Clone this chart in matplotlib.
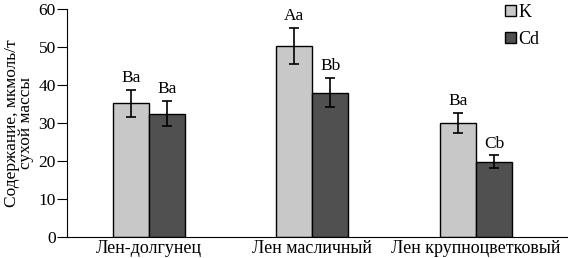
import numpy as np
import matplotlib
matplotlib.use("Agg")
import matplotlib.pyplot as plt

plt.rcParams['font.family'] = ['Liberation Serif', 'DejaVu Serif']

categories = ['Лен-долгунец', 'Лен масличный', 'Лен крупноцветковый']
k_vals = [35.2, 50.3, 30.0]
k_err = [3.6, 4.7, 2.7]
cd_vals = [32.5, 38.0, 19.8]
cd_err = [3.3, 3.8, 1.7]
k_labels = ['Ba', 'Aa', 'Ba']
cd_labels = ['Ba', 'Bb', 'Cb']

fig = plt.figure(figsize=(5.68, 2.58), dpi=100)
ax = fig.add_axes([67/568, 21/258, 1 - 67/568, 228/258])

x = np.arange(len(categories))
w = 0.22
ax.bar(x - w/2, k_vals, w, color='#c8c8c8', edgecolor='black', linewidth=1, label='K')
ax.bar(x + w/2, cd_vals, w, color='#505050', edgecolor='black', linewidth=1, label='Cd')
ax.errorbar(x - w/2, k_vals, yerr=k_err, fmt='none', ecolor='black', elinewidth=1.2, capsize=3.5, capthick=1.2)
ax.errorbar(x + w/2, cd_vals, yerr=cd_err, fmt='none', ecolor='black', elinewidth=1.2, capsize=3.5, capthick=1.2)

for xi, v, e, t in zip(x - w/2, k_vals, k_err, k_labels):
    ax.text(xi, v + e + 1.0, t, ha='center', va='bottom', fontsize=12.5)
for xi, v, e, t in zip(x + w/2, cd_vals, cd_err, cd_labels):
    ax.text(xi, v + e + 1.0, t, ha='center', va='bottom', fontsize=12.5)

ax.set_xlim(-0.5, 2.563)
ax.set_ylim(0, 60)
ax.set_yticks(range(0, 61, 10))
ax.set_xticks(x)
ax.set_xticklabels(categories, fontsize=13)
ax.tick_params(axis='x', length=0, pad=2)
ax.tick_params(axis='y', labelsize=12.5, length=7, direction='out', pad=1)
ax.spines['top'].set_visible(False)
ax.spines['right'].set_visible(False)
ax.set_ylabel('Содержание, мкмоль/т\nсухой массы', fontsize=12.5, linespacing=0.82)
ax.yaxis.set_label_coords(-0.066, 0.5)

ax.legend(loc='upper left', bbox_to_anchor=(505/568, 0.985), bbox_transform=fig.transFigure,
          frameon=False, fontsize=13, borderpad=0, borderaxespad=0,
          handlelength=0.6, handleheight=0.6, handletextpad=0.15, labelspacing=0.55)

fig.savefig('out.png', dpi=100)
